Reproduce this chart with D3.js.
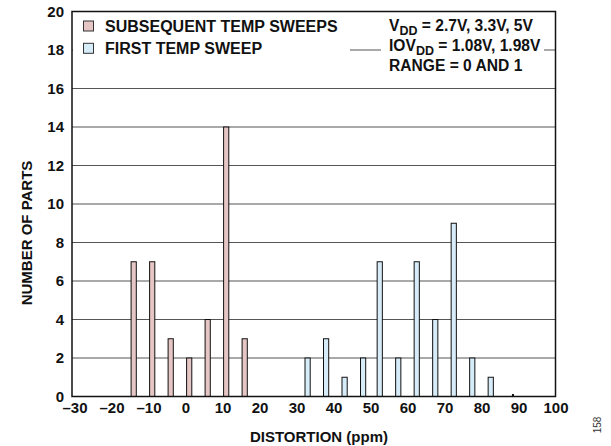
<!DOCTYPE html>
<html>
<head>
<meta charset="utf-8">
<script src="https://cdn.jsdelivr.net/npm/d3@7"></script>
<style>
  html, body { margin: 0; padding: 0; background: #fff; }
  svg { display: block; font-family: "Liberation Sans", Arial, sans-serif; }
</style>
</head>
<body>
<svg id="chart" width="611" height="446"></svg>
<script>
// ---- data ----
const subsequentBins = [-14, -9, -4, 1, 6, 11, 16];
const subsequentCounts = [7, 7, 3, 2, 4, 14, 3];
const firstBins = [33, 38, 43, 48, 52.5, 57.5, 62.5, 67.5, 72.5, 77.5, 82.5, 88.5];
const firstCounts = [2, 3, 1, 2, 7, 2, 7, 4, 9, 2, 1, 0];
const xTicks = [-30, -20, -10, 0, 10, 20, 30, 40, 50, 60, 70, 80, 90, 100];
const yTicks = [0, 2, 4, 6, 8, 10, 12, 14, 16, 18, 20];
const legendLabels = ["SUBSEQUENT TEMP SWEEPS", "FIRST TEMP SWEEP"];

const pink = "#e6c6c4", blue = "#d7ecf9";

const svg = d3.select("#chart");
const x = d3.scaleLinear().domain([-30, 100]).range([74.5, 555.5]);
const y = d3.scaleLinear().domain([0, 20]).range([396.5, 11.5]);
const frameL = 72, frameR = 555.5;

// gridlines
svg.append("g").selectAll("line").data(yTicks.filter(d => d > 0 && d < 20)).join("line")
  .attr("x1", frameL).attr("x2", frameR)
  .attr("y1", d => y(d)).attr("y2", d => y(d))
  .attr("stroke", "#555").attr("stroke-width", 1.1);

// legend white boxes covering gridline at 18
svg.append("rect").attr("x", frameL + 1).attr("y", 16).attr("width", 277).attr("height", 42).attr("fill", "#fff");
svg.append("rect").attr("x", 381).attr("y", 14).attr("width", 163).attr("height", 62).attr("fill", "#fff");

// bars
const bw = 5.2;
function drawBars(bins, counts, fill) {
  const data = bins.map((b, i) => ({ b, c: counts[i] }));
  svg.append("g").selectAll("rect").data(data.filter(d => d.c > 0)).join("rect")
    .attr("x", d => x(d.b) - bw / 2)
    .attr("y", d => y(d.c))
    .attr("width", bw)
    .attr("height", d => y(0) - y(d.c))
    .attr("fill", fill).attr("stroke", "#111").attr("stroke-width", 1);
  svg.append("g").selectAll("rect").data(data.filter(d => d.c === 0)).join("rect")
    .attr("x", d => x(d.b) - 1).attr("y", y(0) - 2.5)
    .attr("width", 2).attr("height", 2).attr("fill", "#111");
}
drawBars(subsequentBins, subsequentCounts, pink);
drawBars(firstBins, firstCounts, blue);

// frame
svg.append("rect").attr("x", frameL).attr("y", y(20)).attr("width", frameR - frameL).attr("height", y(0) - y(20))
  .attr("fill", "none").attr("stroke", "#111").attr("stroke-width", 1.5);

// axes
const xAxis = d3.axisBottom(x).tickValues(xTicks).tickSize(0).tickPadding(6)
  .tickFormat(d => d < 0 ? "\u2013" + Math.abs(d) : String(d));
const gx = svg.append("g").attr("transform", `translate(0,${y(0)})`).call(xAxis);
gx.select(".domain").remove();
gx.selectAll("text").attr("font-size", 15).attr("font-weight", "bold").attr("fill", "#111")
  .attr("font-family", "Liberation Sans, Arial, sans-serif");

const yAxis = d3.axisLeft(y).tickValues(yTicks).tickSize(0).tickPadding(8);
const gy = svg.append("g").attr("transform", `translate(${frameL},0)`).call(yAxis);
gy.select(".domain").remove();
gy.selectAll("text").attr("font-size", 15).attr("font-weight", "bold").attr("fill", "#111")
  .attr("font-family", "Liberation Sans, Arial, sans-serif");

// axis titles
svg.append("text").attr("x", 319).attr("y", 442).attr("text-anchor", "middle")
  .attr("font-size", 15).attr("font-weight", "bold").attr("fill", "#111").text("DISTORTION (ppm)");
svg.append("text").attr("transform", "translate(32,233) rotate(-90)").attr("text-anchor", "middle")
  .attr("font-size", 15).attr("font-weight", "bold").attr("fill", "#111").text("NUMBER OF PARTS");

// legend
const legColors = [pink, blue];
legendLabels.forEach((t, i) => {
  const ly = 21 + i * 22.3;
  svg.append("rect").attr("x", 83.5).attr("y", ly).attr("width", 10).attr("height", 10)
    .attr("fill", legColors[i]).attr("stroke", "#333").attr("stroke-width", 1);
  svg.append("text").attr("x", 105).attr("y", ly + 10.7).attr("font-size", 16)
    .attr("font-weight", "bold").attr("fill", "#111").text(t);
});

// conditions text
const cond = svg.append("g").attr("font-size", 15.6).attr("font-weight", "bold").attr("fill", "#111");
const t1 = cond.append("text").attr("x", 389).attr("y", 30.5);
t1.append("tspan").text("V");
t1.append("tspan").attr("font-size", 12.5).attr("dy", 4).text("DD");
t1.append("tspan").attr("dy", -4).text(" = 2.7V, 3.3V, 5V");
const t2 = cond.append("text").attr("x", 389).attr("y", 50.7);
t2.append("tspan").text("IOV");
t2.append("tspan").attr("font-size", 12.5).attr("dy", 4).text("DD");
t2.append("tspan").attr("dy", -4).text(" = 1.08V, 1.98V");
cond.append("text").attr("x", 389).attr("y", 70.7).text("RANGE = 0 AND 1");

// figure number
svg.append("text").attr("transform", "translate(601,425) rotate(-90)").attr("text-anchor", "middle")
  .attr("font-size", 10).attr("fill", "#333").text("158");
</script>
</body>
</html>
